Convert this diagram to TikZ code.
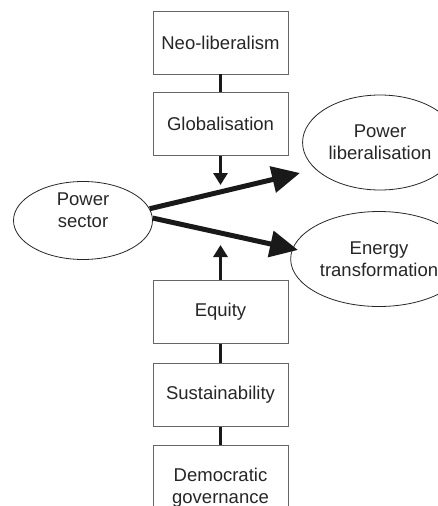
\documentclass[tikz,border=0pt]{standalone}
\usepackage{fontspec}
\setmainfont{Liberation Sans}
\usetikzlibrary{shapes.geometric,arrows.meta,positioning}

\begin{document}
\begin{tikzpicture}[
    x=1pt, y=-1pt,
    font=\fontsize{18.5}{22}\selectfont,
    box/.style={rectangle, draw=black!60, line width=0.8pt, text=black!85, text centered, align=center, minimum width=135pt, minimum height=63pt},
    oval/.style={ellipse, draw=black!85, line width=0.8pt, text=black!85, align=center, minimum width=146pt, minimum height=95pt},
    link/.style={line width=3pt, black!90},
    push/.style={line width=3pt, black!90, -{Triangle[length=12pt,width=14pt]}},
    arrow/.style={line width=5pt, black!90, -{Triangle[length=28pt,width=26pt]}}
]
    \useasboundingbox (0,0) rectangle (438,506);
    \clip (0,0) rectangle (438,506);

    \node[box] (neo) at (220.5,42.5) {Neo-liberalism};
    \node[box, below=18pt of neo] (glob) {Globalisation};
    \node[box, below=124pt of glob] (equity) {Equity};
    \node[box, below=19pt of equity] (sust) {Sustainability};
    \node[box, below=18pt of sust, minimum height=86pt] (demo) {Democratic\\governance};

    \node[oval, minimum width=139pt, minimum height=78pt] (sector) at (83,220.5) {};
    \node[align=center, text=black!85] (sectortext) at (83,210.5) {Power\\sector};
    \node[oval] (lib) at (380,142.5) {Power\\liberalisation};
    \node[oval] (trans) at (379,259) {Energy\\transformation};

    \coordinate (globtip) at (220.5,185);
    \coordinate (equitytip) at (220.5,245);
    \coordinate (libtip) at (300,173);
    \coordinate (transtip) at (298,250);

    \draw[link] (neo) -- (glob);
    \draw[link] (equity) -- (sust);
    \draw[link] (sust) -- (demo);
    \draw[push] (glob) -- (globtip);
    \draw[push] (equity) -- (equitytip);
    \draw[arrow] (sector.10) -- (libtip);
    \draw[arrow] (sector.2) -- (transtip);
\end{tikzpicture}
\end{document}
